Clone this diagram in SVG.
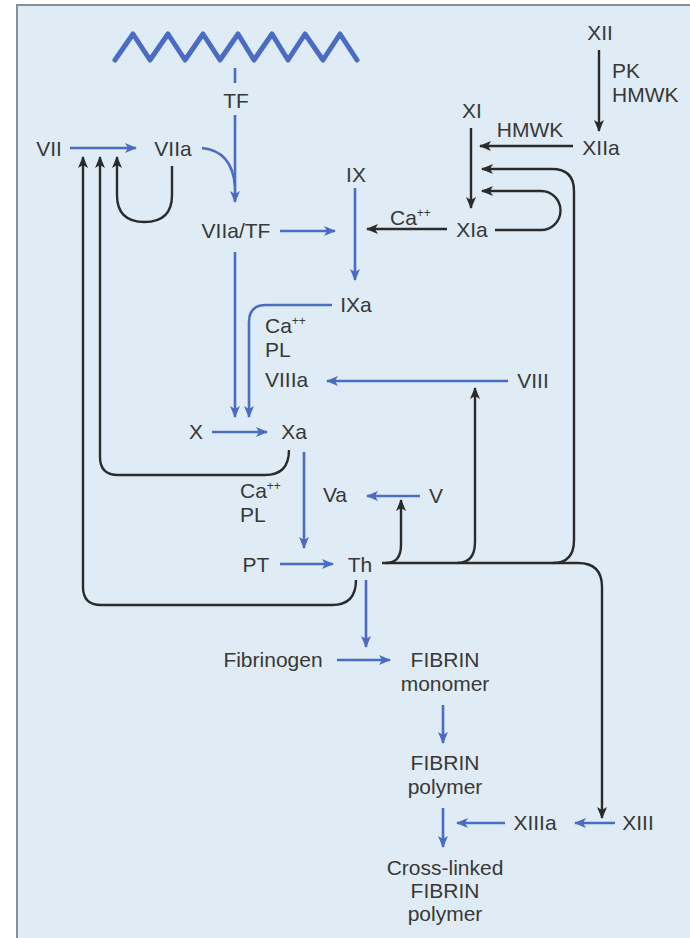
<svg xmlns="http://www.w3.org/2000/svg" width="690" height="938" viewBox="0 0 690 938">
<style>
.t{font-family:"Liberation Sans",Arial,sans-serif;font-size:21px;fill:#383838;text-anchor:middle}
.l{text-anchor:start}
.sup{font-size:12px}
.b{fill:none;stroke:#4a6cc2;stroke-width:2.6}
.k{fill:none;stroke:#2b2b2b;stroke-width:2.4}
.ba{marker-end:url(#ab)}
.ka{marker-end:url(#ak)}
</style>
<defs>
<marker id="ab" viewBox="0 0 12 10" refX="11" refY="5" markerWidth="13" markerHeight="10" markerUnits="userSpaceOnUse" orient="auto">
<path d="M0,0 L12,5 L0,10 L3,5 z" fill="#4a6cc2"/>
</marker>
<marker id="ak" viewBox="0 0 12 10" refX="11" refY="5" markerWidth="13" markerHeight="10" markerUnits="userSpaceOnUse" orient="auto">
<path d="M0,0 L12,5 L0,10 L3,5 z" fill="#2b2b2b"/>
</marker>
</defs>
<rect x="0" y="0" width="690" height="938" fill="#ffffff"/>
<rect x="17" y="5" width="700" height="960" fill="#dfecf5" stroke="#8a8f94" stroke-width="2"/>
<g id="membrane">
<path d="M115,60 L133,34 L150,60 L168,34 L185,60 L203,34 L220,60 L238,34 L254,60 L272,34 L288,60 L305,34 L323,60 L340,34 L357,60" fill="none" stroke="#4a6cc2" stroke-width="5" stroke-linejoin="round" stroke-linecap="round"/>
</g>
<g id="connectors">
<line class="b" x1="235" y1="68" x2="235" y2="83"/>
<line class="b ba" x1="235" y1="115" x2="235" y2="202"/>
<path class="b" d="M202,148 Q232,151 235,186"/>
<line class="b ba" x1="70" y1="148" x2="136" y2="148"/>
<line class="b ba" x1="280" y1="231" x2="335" y2="231"/>
<line class="b ba" x1="355" y1="188" x2="355" y2="280"/>
<line class="b ba" x1="235" y1="252" x2="235" y2="417"/>
<path class="b ba" d="M332,305 H266 Q249,305 249,322 V417"/>
<line class="b ba" x1="508" y1="381" x2="327" y2="381"/>
<line class="b ba" x1="212" y1="432" x2="267" y2="432"/>
<line class="b ba" x1="304" y1="452" x2="304" y2="548"/>
<line class="b ba" x1="420" y1="496" x2="367" y2="496"/>
<line class="b ba" x1="280" y1="564" x2="333" y2="564"/>
<line class="b ba" x1="366" y1="580" x2="366" y2="647"/>
<line class="b ba" x1="337" y1="660" x2="390" y2="660"/>
<line class="b ba" x1="443" y1="705" x2="443" y2="743"/>
<line class="b ba" x1="443" y1="808" x2="443" y2="847"/>
<line class="b ba" x1="505" y1="823" x2="457" y2="823"/>
<line class="b ba" x1="615" y1="823" x2="575" y2="823"/>
<line class="k ka" x1="599" y1="50" x2="599" y2="131"/>
<line class="k ka" x1="573" y1="146" x2="480" y2="146"/>
<line class="k ka" x1="471" y1="128" x2="471" y2="208"/>
<line class="k ka" x1="447" y1="229" x2="367" y2="229"/>
<path class="k ka" d="M495,230 H541 A19.5,19.5 0 0 0 541,191 H482"/>
<path class="k ka" d="M553,563 Q574,563 574,540 V191 Q574,169 552,169 H482"/>
<path class="k ka" d="M382,563 H578 Q602,563 602,587 V818"/>
<path class="k ka" d="M386,563 Q401,563 401,545 V500"/>
<path class="k ka" d="M457,563 Q475,563 475,542 V388"/>
<path class="k ka" d="M172,166 V195 Q172,222 144.5,222 Q117,222 117,195 V157"/>
<path class="k ka" d="M289,450 Q289,475 265,475 H118 Q100,475 100,457 V157"/>
<path class="k ka" d="M356,580 Q356,605 332,605 H101 Q83,605 83,587 V157"/>
</g>
<g id="n-TF"><text class="t" x="236" y="108">TF</text></g>
<g id="n-VII"><text class="t" x="49" y="156">VII</text></g>
<g id="n-VIIa"><text class="t" x="173" y="156">VIIa</text></g>
<g id="n-VIIaTF"><text class="t" x="236" y="238">VIIa/TF</text></g>
<g id="n-XII"><text class="t" x="600" y="40">XII</text></g>
<g id="l-PK"><text class="t l" x="612" y="78">PK</text><text class="t l" x="612" y="102">HMWK</text></g>
<g id="n-XI"><text class="t" x="472" y="118">XI</text></g>
<g id="l-HMWK"><text class="t" x="530" y="137">HMWK</text></g>
<g id="n-XIIa"><text class="t" x="601" y="155">XIIa</text></g>
<g id="n-IX"><text class="t" x="356" y="182">IX</text></g>
<g id="n-XIa"><text class="t" x="472" y="237">XIa</text></g>
<g id="l-Ca1"><text class="t l" x="390" y="225">Ca<tspan class="sup" dy="-8">++</tspan></text></g>
<g id="n-IXa"><text class="t" x="356" y="312">IXa</text></g>
<g id="l-Ca2"><text class="t l" x="265" y="333">Ca<tspan class="sup" dy="-8">++</tspan></text><text class="t l" x="265" y="357">PL</text></g>
<g id="n-VIIIa"><text class="t l" x="265" y="387">VIIIa</text></g>
<g id="n-VIII"><text class="t" x="533" y="388">VIII</text></g>
<g id="n-X"><text class="t" x="196" y="439">X</text></g>
<g id="n-Xa"><text class="t" x="294" y="439">Xa</text></g>
<g id="l-Ca3"><text class="t l" x="240" y="498">Ca<tspan class="sup" dy="-8">++</tspan></text><text class="t l" x="240" y="522">PL</text></g>
<g id="n-Va"><text class="t" x="335" y="502">Va</text></g>
<g id="n-V"><text class="t" x="436" y="503">V</text></g>
<g id="n-PT"><text class="t" x="256" y="572">PT</text></g>
<g id="n-Th"><text class="t" x="360" y="572">Th</text></g>
<g id="n-Fibrinogen"><text class="t" x="273" y="667">Fibrinogen</text></g>
<g id="n-monomer"><text class="t" x="445" y="667">FIBRIN</text><text class="t" x="445" y="691">monomer</text></g>
<g id="n-polymer"><text class="t" x="445" y="770">FIBRIN</text><text class="t" x="445" y="794">polymer</text></g>
<g id="n-XIIIa"><text class="t" x="535" y="830">XIIIa</text></g>
<g id="n-XIII"><text class="t" x="638" y="830">XIII</text></g>
<g id="n-crosslinked"><text class="t" x="445" y="875">Cross-linked</text><text class="t" x="445" y="898">FIBRIN</text><text class="t" x="445" y="921">polymer</text></g>
</svg>
